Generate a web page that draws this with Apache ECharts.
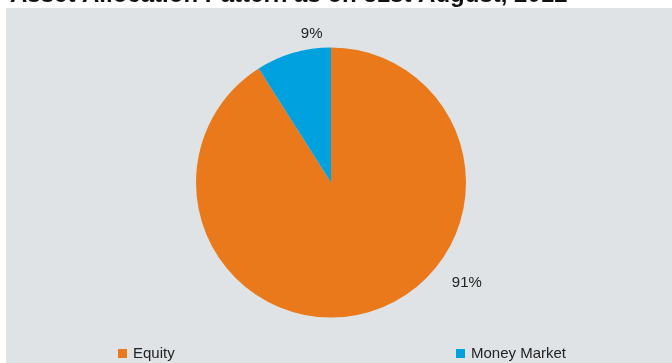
<!DOCTYPE html>
<html>
<head>
<meta charset="utf-8">
<script src="https://cdn.jsdelivr.net/npm/echarts@6/dist/echarts.min.js"></script>
<style>
  html, body { margin: 0; padding: 0; background: #ffffff; }
  #chart { width: 672px; height: 363px; }
</style>
</head>
<body>
<div id="chart"></div>
<script>
// Asset allocation as on 31st August, 2012 (percent of portfolio)
const categories = ['Equity', 'Money Market'];
const allocation = [91, 9];
const sliceColors = ['#E9791A', '#00A1DF'];

// Pie geometry
const CX = 331, CY = 182.5, R = 135;
// Label anchors: polar angle (degrees, counter-clockwise from 3 o'clock) and distance in radii
const labelAnchors = [
  { angle: -36.4, dist: 1.25 },
  { angle: 97.4, dist: 1.11 }
];

const chart = echarts.init(document.getElementById('chart'), null, { renderer: 'canvas' });

const legendCommon = {
  orient: 'horizontal',
  top: 341,
  itemWidth: 9,
  itemHeight: 9,
  itemGap: 10,
  icon: 'rect',
  textStyle: { fontFamily: 'Liberation Sans, Arial, sans-serif', fontSize: 15, color: '#222222', padding: [0, 0, 0, 1] }
};

chart.setOption({
  animation: false,
  backgroundColor: '#ffffff',
  color: sliceColors,
  title: {
    text: 'Asset Allocation Pattern as on 31st August, 2012',
    left: 5,
    top: -22,
    textStyle: { fontFamily: 'Liberation Sans, Arial, sans-serif', fontSize: 24, fontWeight: 'bold', color: '#111111' }
  },
  graphic: [{
    type: 'rect',
    z: -10,
    silent: true,
    shape: { x: 6, y: 8, width: 666, height: 355 },
    style: { fill: '#DFE3E6' }
  }],
  legend: [
    Object.assign({ left: 113, data: [categories[0]] }, legendCommon),
    Object.assign({ left: 451, data: [categories[1]] }, legendCommon)
  ],
  series: [{
    type: 'pie',
    center: [CX, CY],
    radius: R,
    startAngle: 90,
    clockwise: true,
    avoidLabelOverlap: false,
    label: {
      show: true,
      position: 'outside',
      formatter: '{c}%',
      fontFamily: 'Liberation Sans, Arial, sans-serif',
      fontSize: 15,
      color: '#222222'
    },
    labelLine: { show: false },
    labelLayout: function (params) {
      const a = labelAnchors[params.dataIndex];
      const rad = a.angle * Math.PI / 180;
      return {
        x: CX + a.dist * R * Math.cos(rad),
        y: CY - a.dist * R * Math.sin(rad),
        align: 'center',
        verticalAlign: 'middle'
      };
    },
    itemStyle: { borderWidth: 0 },
    emphasis: { disabled: true },
    data: categories.map((name, i) => ({ name: name, value: allocation[i] }))
  }]
});
</script>
</body>
</html>
